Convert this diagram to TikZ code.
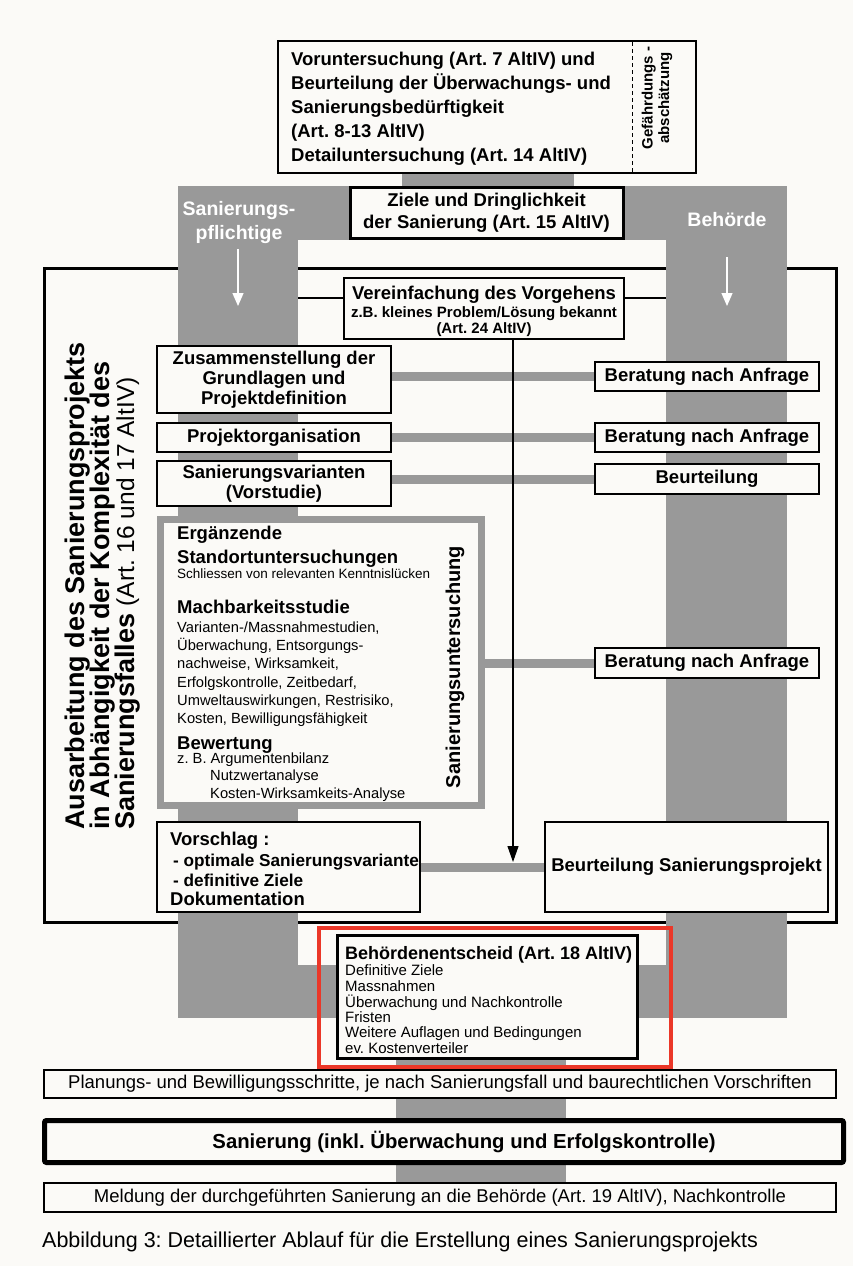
\documentclass[tikz,border=0pt]{standalone}
\usepackage{fontspec}
\setmainfont{Liberation Sans}
\usetikzlibrary{arrows.meta}
\definecolor{pagecol}{RGB}{251,250,247}
\definecolor{band}{RGB}{153,153,153}
\definecolor{redmark}{RGB}{235,55,40}
\newcommand{\myB}{\fontsize{18.5}{20}\selectfont\bfseries}
\newcommand{\myR}{\fontsize{14.7}{18}\selectfont}
\newcommand{\myS}{\fontsize{15}{16}\selectfont}
\frenchspacing
\begin{document}
\begin{tikzpicture}[x=1pt,y=-1pt,
  box/.style={draw=black, line width=1.2pt, fill=pagecol, inner sep=0pt},
  thickbox/.style={box, line width=3pt},
  ln/.style={anchor=base west, inner sep=0pt},
  graybar/.style={draw=band, line width=9pt},
  thinline/.style={draw=black, line width=1.1pt},
  whitearrow/.style={draw=white, line width=1.3pt, -{Triangle[width=11pt,length=13pt,fill=white]}},
]
\useasboundingbox (0,0) rectangle (853,1266);
\fill[pagecol] (0,0) rectangle (853,1266);

% big frame
\draw[line width=3pt] (44,268) rectangle (836,922);

% gray bands
\fill[band] (178,186) rectangle (787,240);
\fill[band] (178,239) rectangle (298,1018);
\fill[band] (666,239) rectangle (787,1018);
\fill[band] (297,965) rectangle (667,1018);
\fill[band] (402,172) rectangle (574,188);
\fill[band] (396,1050) rectangle (566,1185);

% top box
\node[box, minimum width=418pt, minimum height=132pt] (top) at (487,107) {};
\draw[dashed, line width=1pt, dash pattern=on 4pt off 3pt] (632,42) -- (632,172);
\node[ln, font=\myB] (v1) at (291,65.4) {Voruntersuchung (Art. 7 AltIV) und};
\node[ln, font=\myB] (v2) at (291,89.5) {Beurteilung der Überwachungs- und};
\node[ln, font=\myB] (v3) at (291,113.6) {Sanierungsbedürftigkeit};
\node[ln, font=\myB] (v4) at (291,137.7) {(Art. 8-13 AltIV)};
\node[ln, font=\myB] (v5) at (291,161.8) {Detailuntersuchung (Art. 14 AltIV)};
\node[rotate=90, align=center, inner sep=0pt, font=\fontsize{15}{16.5}\selectfont\bfseries] (gef) at (657,98) {Gefährdungs -\\abschätzung};

% Ziele
\node[thickbox, minimum width=273pt, minimum height=51pt, align=center, font=\fontsize{18.5}{22}\selectfont\bfseries] (ziele) at (486.5,212.5) {Ziele und Dringlichkeit\\der Sanierung (Art. 15 AltIV)};

% column labels and arrows
\node[align=center, text=white, inner sep=0pt, font=\fontsize{19.5}{24}\selectfont\bfseries] (sp) at (239,222) {Sanierungs-\\pflichtige};
\node[text=white, inner sep=0pt, font=\fontsize{19.5}{24}\selectfont\bfseries] (beh) at (727,220) {Behörde};
\coordinate (la) at (238,306);
\coordinate (ra) at (727,306);
\draw[whitearrow, shorten <=6pt] (sp.south -| la) -- (la);
\draw[whitearrow, shorten <=30pt] (beh.south) -- (ra);

% Vereinfachung
\node[box, minimum width=280pt, minimum height=61pt] (ver) at (484,308.5) {};
\node[anchor=base, inner sep=0pt, font=\myB] (ver1) at (484,299.7) {Vereinfachung des Vorgehens};
\node[anchor=base, inner sep=0pt, font=\fontsize{15}{16}\selectfont\bfseries] (ver2) at (484,317) {z.B. kleines Problem/Lösung bekannt};
\node[anchor=base, inner sep=0pt, font=\fontsize{15}{16}\selectfont\bfseries] (ver3) at (484,333) {(Art. 24 AltIV)};
\coordinate (vl) at (298,298);
\coordinate (vr) at (666,298);
\draw[thinline] (vl) -- (vl -| ver.west);
\draw[thinline] (ver.east |- vr) -- (vr);

% left column boxes
\node[box, minimum width=234pt, minimum height=67pt, align=center, font=\myB] (zus) at (274,379.5) {Zusammenstellung der\\Grundlagen und\\Projektdefinition};
\node[box, minimum width=234pt, minimum height=29pt, font=\myB] (proj) at (274,437.5) {Projektorganisation};
\node[box, minimum width=234pt, minimum height=45pt, align=center, font=\myB] (svar) at (274,483.5) {Sanierungsvarianten\\(Vorstudie)};

% right column boxes
\node[box, minimum width=224pt, minimum height=29pt, font=\myB] (ber1) at (707,376.5) {Beratung nach Anfrage};
\node[box, minimum width=224pt, minimum height=29pt, font=\myB] (ber2) at (707,437.5) {Beratung nach Anfrage};
\node[box, minimum width=224pt, minimum height=30pt, font=\myB] (beu) at (707,479) {Beurteilung};
\node[box, minimum width=224pt, minimum height=30pt, font=\myB] (ber3) at (707,663) {Beratung nach Anfrage};

% Sanierungsuntersuchung
\node[draw=band, line width=7pt, fill=pagecol, inner sep=0pt, minimum width=321pt, minimum height=286pt] (sanunt) at (321,662) {};
\node[ln, font=\myB] (e1) at (177,539.7) {Ergänzende};
\node[ln, font=\myB] (e2) at (177,563.7) {Standortuntersuchungen};
\node[ln, font=\fontsize{13.5}{15}\selectfont] (e3) at (177,578.9) {Schliessen von relevanten Kenntnislücken};
\node[ln, font=\myB] (m1) at (177,613.7) {Machbarkeitsstudie};
\node[ln, font=\myR] (m2) at (177,632.2) {Varianten-/Massnahmestudien,};
\node[ln, font=\myR] (m3) at (177,650.2) {Überwachung, Entsorgungs-};
\node[ln, font=\myR] (m4) at (177,668.2) {nachweise, Wirksamkeit,};
\node[ln, font=\myR] (m5) at (177,687.2) {Erfolgskontrolle, Zeitbedarf,};
\node[ln, font=\myR] (m6) at (177,705.2) {Umweltauswirkungen, Restrisiko,};
\node[ln, font=\myR] (m7) at (177,723.2) {Kosten, Bewilligungsfähigkeit};
\node[ln, font=\myB] (b1) at (177,749.7) {Bewertung};
\node[ln, font=\myR] (b2) at (177,763.2) {z. B. Argumentenbilanz};
\node[ln, font=\myR] (b3) at (210,780.2) {Nutzwertanalyse};
\node[ln, font=\myR] (b4) at (210,798.2) {Kosten-Wirksamkeits-Analyse};
\node[rotate=90, inner sep=0pt, font=\fontsize{20}{20}\selectfont\bfseries] (suu) at (455,667) {Sanierungsuntersuchung};

% Vorschlag / Beurteilung Sanierungsprojekt
\node[box, minimum width=263pt, minimum height=90pt] (vor) at (288.5,867) {};
\node[ln, font=\myB] (vo1) at (170,845) {Vorschlag :};
\node[ln, font=\fontsize{17.2}{20}\selectfont\bfseries] (vo2) at (173,866) {- optimale Sanierungsvariante};
\node[ln, font=\fontsize{17.2}{20}\selectfont\bfseries] (vo3) at (173,886) {- definitive Ziele};
\node[ln, font=\myB] (vo4) at (170,905) {Dokumentation};
\node[box, minimum width=283pt, minimum height=90pt, font=\myB] (bsp) at (686.5,867) {Beurteilung Sanierungsprojekt};

% left rotated title
\node[rotate=90, anchor=base west, inner sep=0pt, font=\fontsize{27}{27}\selectfont\bfseries] (a1) at (84,830) {Ausarbeitung des Sanierungsprojekts};
\node[rotate=90, anchor=base west, inner sep=0pt, font=\fontsize{27}{27}\selectfont\bfseries] (a2) at (109,830) {in Abhängigkeit der Komplexität des};
\node[rotate=90, anchor=base west, inner sep=0pt, font=\fontsize{27}{27}\selectfont\bfseries] (a3) at (134,830) {Sanierungsfalles {\fontsize{24.5}{24.5}\selectfont\mdseries (Art. 16 und 17 AltIV)}};

% gray connector bars
\draw[graybar] (zus.east |- ber1.west) -- (ber1.west);
\draw[graybar] (proj.east |- ber2.west) -- (ber2.west);
\draw[graybar] (svar.east |- beu.west) -- (beu.west);
\draw[graybar] (sanunt.east |- ber3.west) -- (ber3.west);
\draw[graybar] (vor.east) -- (bsp.west);

% arrow from Vereinfachung
\coordinate (tip) at (513,862);
\draw[thinline, -{Triangle[width=11pt,length=16pt]}] (ver.south -| tip) -- (tip);

% Behoerdenentscheid
\node[thickbox, minimum width=300pt, minimum height=123pt] (bent) at (487,996.5) {};
\node[ln, font=\fontsize{18}{20}\selectfont\bfseries] (h1) at (345,959.5) {Behördenentscheid (Art. 18 AltIV)};
\node[ln, font=\myS] (h2) at (345,975.5) {Definitive Ziele};
\node[ln, font=\myS] (h3) at (345,991.5) {Massnahmen};
\node[ln, font=\myS] (h4) at (345,1007.5) {Überwachung und Nachkontrolle};
\node[ln, font=\myS] (h5) at (345,1022.5) {Fristen};
\node[ln, font=\myS] (h6) at (345,1037.5) {Weitere Auflagen und Bedingungen};
\node[ln, font=\myS] (h7) at (345,1053) {ev. Kostenverteiler};
\draw[redmark, line width=3.5pt] (319,928) rectangle (671,1067);

% bottom boxes
\node[box, minimum width=792pt, minimum height=28pt, font=\fontsize{18.5}{20}\selectfont] (plan) at (440,1084) {Planungs- und Bewilligungsschritte, je nach Sanierungsfall und baurechtlichen Vorschriften};
\node[box, line width=5pt, rounded corners=2pt, minimum width=799pt, minimum height=42pt] (san) at (444,1141.5) {};
\node[inner sep=0pt, font=\fontsize{20.3}{22}\selectfont\bfseries] (santxt) at (464,1141.5) {Sanierung (inkl. Überwachung und Erfolgskontrolle)};
\node[box, minimum width=792pt, minimum height=29pt, font=\fontsize{18.5}{20}\selectfont] (meld) at (440,1197.5) {Meldung der durchgeführten Sanierung an die Behörde (Art. 19 AltIV), Nachkontrolle};

\node[ln, font=\fontsize{21.5}{24}\selectfont] (cap) at (42,1247.5) {Abbildung 3: Detaillierter Ablauf für die Erstellung eines Sanierungsprojekts};
\end{tikzpicture}
\end{document}
